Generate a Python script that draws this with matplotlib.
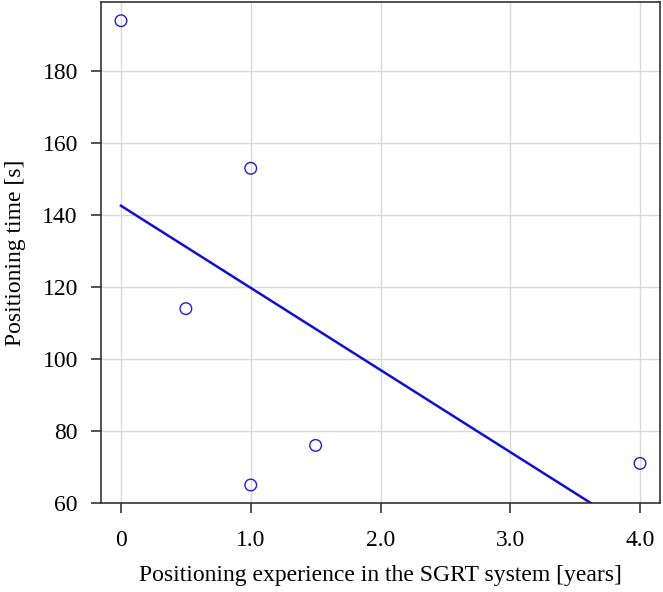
import numpy as np
import matplotlib
matplotlib.use("Agg")
import matplotlib.pyplot as plt

plt.rcParams['font.family'] = ['Liberation Serif', 'DejaVu Serif']

# data
experience = [0, 0.5, 1.0, 1.0, 1.5, 4.0]
pos_time = [194, 114, 153, 65, 76, 71]
x_ticks = [0, 1, 2, 3, 4]
x_ticklabels = ["0", "1.0", "2.0", "3.0", "4.0"]
y_ticks = [60, 80, 100, 120, 140, 160, 180]

fig = plt.figure(figsize=(6.63, 5.92), dpi=100)
ax = fig.add_axes([101 / 663, 89 / 592, 559 / 663, 501 / 592])

ax.grid(True, color="#d9d9d9", linewidth=1.0, zorder=0)
ax.set_axisbelow(True)

# linear fit
slope, intercept = np.polyfit(experience, pos_time, 1)
xs = np.linspace(0, 4, 200)
ax.plot(xs, intercept + slope * xs, color="#1010d0", linewidth=1.8, zorder=2)

ax.scatter(experience, pos_time, s=70, facecolors="none", edgecolors="#2020c8",
           linewidths=1.0, zorder=3)

ax.set_xlim(-0.154, 4.154)
ax.set_ylim(60, 199.2)
ax.set_xticks(x_ticks)
ax.set_xticklabels(x_ticklabels)
ax.set_yticks(y_ticks)

for s in ax.spines.values():
    s.set_color("#333333")
    s.set_linewidth(1.2)

ax.tick_params(direction="out", length=7.2, width=1.2, color="#333333",
               labelsize=17)
ax.tick_params(axis="x", pad=12.2)
ax.tick_params(axis="y", pad=9.5)

ax.set_xlabel("Positioning experience in the SGRT system [years]", fontsize=17, labelpad=10)
ax.set_ylabel("Positioning time [s]", fontsize=17, labelpad=12)

fig.savefig("out.png", dpi=100)
